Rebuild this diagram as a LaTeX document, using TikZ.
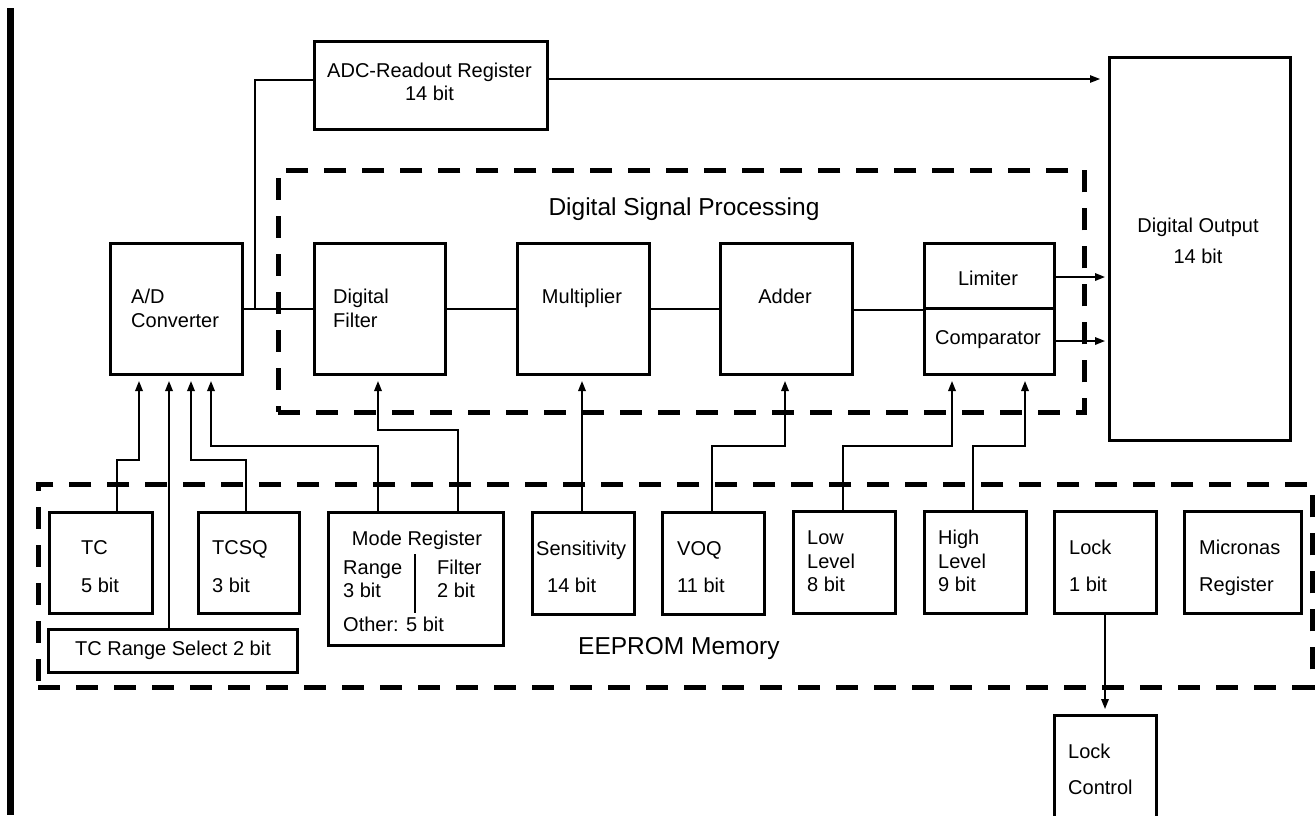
\documentclass[tikz,border=0pt]{standalone}
\usepackage{fontspec}
\setmainfont{Liberation Sans}
\usetikzlibrary{arrows.meta}
\begin{document}
\begin{tikzpicture}[x=1pt,y=-1pt,
  blk/.style={draw, line width=3pt, inner sep=0pt, anchor=north west},
  grp/.style={draw, line width=4.5pt, dash pattern=on 22pt off 16pt, inner sep=0pt, anchor=north west},
  conn/.style={line width=1.7pt},
  arr/.style={conn, -{Triangle[length=10pt,width=7.5pt]}, shorten >=5pt},
  txt/.style={anchor=base west, inner sep=0pt, font=\fontsize{20}{24}\selectfont},
  ctxt/.style={txt, anchor=base},
  ttl/.style={inner sep=0pt, font=\fontsize{24.5}{28}\selectfont}]

\useasboundingbox (0,0) rectangle (1315,815);
\clip (0,0) rectangle (1315,815);

% page margin bar
\fill (7,8) rectangle (14,815);

% group frames
\node[grp, minimum width=806pt, minimum height=242pt] (dsp) at (276,168) {};
\node[grp, minimum width=1274pt, minimum height=203pt] (eeprom) at (36,482) {};
\node[ttl, anchor=base] (dsptitle) at (684,215) {Digital Signal Processing};
\node[ttl, anchor=base west] (eetitle) at (578,654) {EEPROM Memory};

% signal path blocks
\node[blk, minimum width=233pt, minimum height=88pt]  (adcreg) at (313,40) {};
\node[blk, minimum width=132pt, minimum height=131pt] (ad)     at (109,242) {};
\node[blk, minimum width=131pt, minimum height=131pt] (df)     at (313,242) {};
\node[blk, minimum width=132pt, minimum height=131pt] (mul)    at (516,242) {};
\node[blk, minimum width=132pt, minimum height=131pt] (add)    at (719,242) {};
\node[blk, minimum width=130pt, minimum height=65pt]  (lim)    at (923,242) {};
\node[blk, minimum width=130pt, minimum height=66pt]  (cmp)    at (923,307) {};
\node[blk, minimum width=181pt, minimum height=383pt] (dout)   at (1108,56) {};

% EEPROM registers
\node[blk, minimum width=103pt, minimum height=101pt] (tc)     at (48,511) {};
\node[blk, minimum width=101pt, minimum height=101pt] (tcsq)   at (197,511) {};
\node[blk, minimum width=249pt, minimum height=43pt]  (tcrs)   at (47,628) {};
\node[blk, minimum width=175pt, minimum height=133pt] (mode)   at (327,511) {};
\node[blk, minimum width=102pt, minimum height=102pt] (sens)   at (531,511) {};
\node[blk, minimum width=102pt, minimum height=102pt] (voq)    at (661,511) {};
\node[blk, minimum width=102pt, minimum height=102pt] (low)    at (792,510) {};
\node[blk, minimum width=102pt, minimum height=102pt] (high)   at (923,510) {};
\node[blk, minimum width=102pt, minimum height=102pt] (lock)   at (1053,510) {};
\node[blk, minimum width=117pt, minimum height=102pt] (micr)   at (1183,510) {};
\node[blk, minimum width=102pt, minimum height=125pt] (lockctl) at (1053,714) {};

% labels
\node[ctxt] (l1) at (429.5,77) {ADC-Readout Register};
\node[ctxt] (l2) at (429.5,100) {14 bit};
\node[txt] (l3) at (131,303) {A/D};
\node[txt] (l4) at (131,327) {Converter};
\node[txt] (l5) at (333,303) {Digital};
\node[txt] (l6) at (333,327) {Filter};
\node[ctxt] (l7) at (582,303) {Multiplier};
\node[ctxt] (l8) at (785,303) {Adder};
\node[ctxt] (l9) at (988,285) {Limiter};
\node[ctxt] (l10) at (988,344) {Comparator};
\node[ctxt] (l11) at (1198,232) {Digital Output};
\node[ctxt] (l12) at (1198,263) {14 bit};
\node[txt] (l13) at (81,554) {TC};
\node[txt] (l14) at (81,592) {5 bit};
\node[txt] (l15) at (212,554) {TCSQ};
\node[txt] (l16) at (212,592) {3 bit};
\node[txt] (l17) at (75,655) {TC Range Select 2 bit};
\node[ctxt] (l18) at (417,545) {Mode Register};
\node[txt] (l19) at (343,574) {Range};
\node[txt] (l20) at (343,597) {3 bit};
\node[txt] (l21) at (437,574) {Filter};
\node[txt] (l22) at (437,597) {2 bit};
\node[txt] (l23) at (343,631) {Other: 5 bit};
\node[txt] (l24) at (536,555) {Sensitivity};
\node[txt] (l25) at (547,592) {14 bit};
\node[txt] (l26) at (677,555) {VOQ};
\node[txt] (l27) at (677,592) {11 bit};
\node[txt] (l28) at (807,544) {Low};
\node[txt] (l29) at (807,568) {Level};
\node[txt] (l30) at (807,591) {8 bit};
\node[txt] (l31) at (938,544) {High};
\node[txt] (l32) at (938,568) {Level};
\node[txt] (l33) at (938,591) {9 bit};
\node[txt] (l34) at (1069,554) {Lock};
\node[txt] (l35) at (1069,591) {1 bit};
\node[txt] (l36) at (1199,554) {Micronas};
\node[txt] (l37) at (1199,591) {Register};
\node[txt] (l38) at (1068,758) {Lock};
\node[txt] (l39) at (1068,794) {Control};

% mode register field divider
\draw[conn] (415,554) -- (415,613);

% signal chain
\draw[conn] (ad.east) -- (df.west);
\draw[conn] (255,0 |- ad.east) |- (adcreg.west |- 0,80);
\draw[arr, line width=1.2pt, shorten >=8pt] (adcreg.east |- 0,79) -- (dout.west |- 0,79);
\draw[conn] (df.east) -- (mul.west);
\draw[conn] (mul.east) -- (add.west);
\draw[conn] (add.east |- lim.south west) -- (lim.south west);
\draw[arr, shorten >=3pt] (lim.east |- 0,277) -- (dout.west |- 0,277);
\draw[arr, shorten >=3pt] (cmp.east |- 0,341) -- (dout.west |- 0,341);

% EEPROM settings into the signal path
\draw[arr] (117,0 |- tc.north) |- (139,460) -- (139,0 |- ad.south);
\draw[arr] (169,0 |- tcrs.north) -- (169,0 |- ad.south);
\draw[arr] (246,0 |- tcsq.north) |- (191,460) -- (191,0 |- ad.south);
\draw[arr] (378,0 |- mode.north) |- (211,446) -- (211,0 |- ad.south);
\draw[arr] (458,0 |- mode.north) |- (378,430) -- (378,0 |- df.south);
\draw[arr] (582,0 |- sens.north) -- (582,0 |- mul.south);
\draw[arr] (712,0 |- voq.north) |- (785,446) -- (785,0 |- add.south);
\draw[arr] (843,0 |- low.north) |- (952,446) -- (952,0 |- cmp.south);
\draw[arr] (973,0 |- high.north) |- (1025,446) -- (1025,0 |- cmp.south);
\draw[arr] (1105,0 |- lock.south) -- (1105,0 |- lockctl.north);
\end{tikzpicture}
\end{document}
